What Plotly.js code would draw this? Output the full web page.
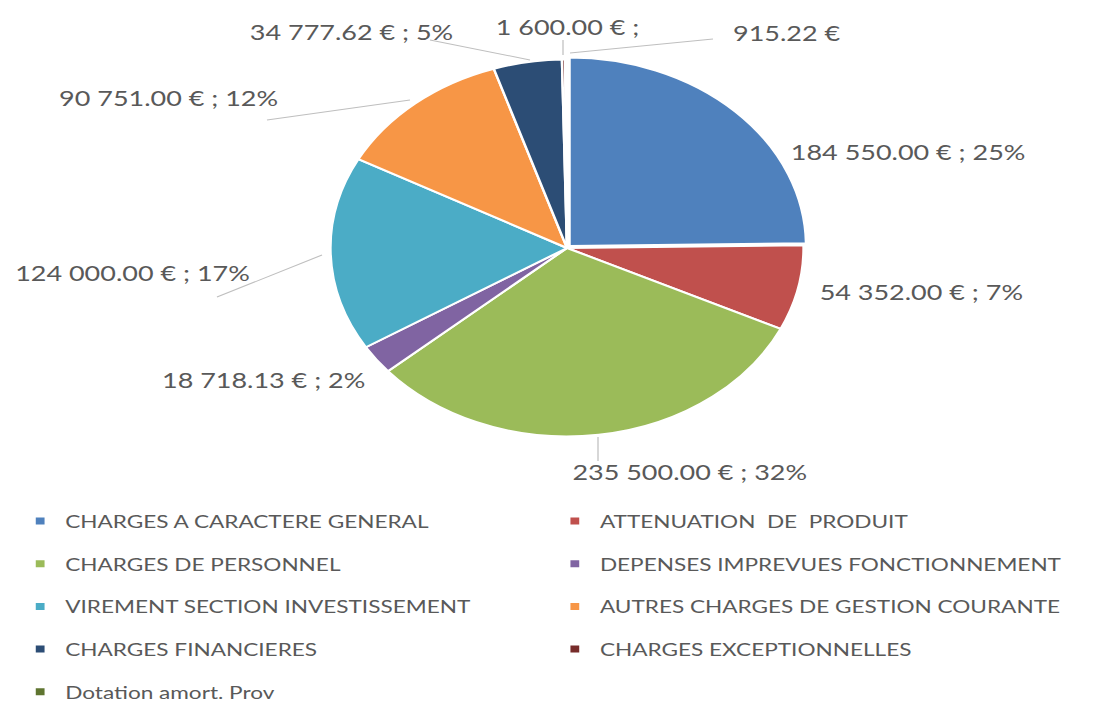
<!DOCTYPE html>
<html><head><meta charset="utf-8">
<script src="https://cdn.plot.ly/plotly-3.0.1.min.js"></script>
<style>
html,body{margin:0;padding:0;background:#fff;overflow:hidden;width:1102px;height:701px}
#wrap{width:1102px;height:701px;overflow:hidden;position:relative}
#chart{width:878px;height:701px;transform:scaleX(1.2551);transform-origin:0 0;position:absolute;left:0;top:0}
</style></head><body><div id="wrap"><div id="chart"></div></div>
<script>
// ---- data ----
const categories = [
  "CHARGES A CARACTERE GENERAL",
  "ATTENUATION  DE  PRODUIT",
  "CHARGES DE PERSONNEL",
  "DEPENSES IMPREVUES FONCTIONNEMENT",
  "VIREMENT SECTION INVESTISSEMENT",
  "AUTRES CHARGES DE GESTION COURANTE",
  "CHARGES FINANCIERES",
  "CHARGES EXCEPTIONNELLES",
  "Dotation amort. Prov"
];
const amounts = [184550.00, 54352.00, 235500.00, 18718.13, 124000.00, 90751.00, 34777.62, 1600.00, 915.22];
const labelTail = ["pct","pct","pct","pct","pct","pct","pct","semi","none"];

// ---- style ----
const colors = ["#4F81BD","#C0504D","#9BBB59","#8064A2","#4BACC6","#F79646","#2C4D75","#772C2A","#5F7530"];
const pulls = [0.015,0,0,0,0,0,0,0,0];
const K = 1.2551, W0 = 878, H = 701;
const px = x => x / K / W0;      // reference pixel x -> paper
const py = y => 1 - y / H;       // reference pixel y -> paper
// label anchor (left edge, vertical middle) in reference pixels
const labelPos = [[788,152],[817,292],[570,472],[160,380],[12,273],[57,98],[247,32],[493,27],[730,33]];
// leader lines in reference pixels
const leaders = [[430,40,530,60],[563,40,563,55],[570,53,713,39],[267,120,410,100],[217,297,322,255],[598,437,598,461]];

const total = amounts.reduce((a,b)=>a+b,0);
// whole percentages summing to 100 (largest remainder)
const raw = amounts.map(v=>v/total*100);
const pcts = raw.map(Math.floor);
let missing = 100 - pcts.reduce((a,b)=>a+b,0);
raw.map((v,i)=>[v-Math.floor(v),i]).sort((a,b)=>b[0]-a[0]).slice(0,missing).forEach(e=>pcts[e[1]]++);

function fmt(v){
  let [i,d] = v.toFixed(2).split('.');
  i = i.replace(/\B(?=(\d{3})+(?!\d))/g,' ');
  return i + '.' + d;
}
const labelText = amounts.map((v,i)=>{
  if(labelTail[i]==='pct') return fmt(v)+' € ; '+pcts[i]+'%';
  if(labelTail[i]==='semi') return fmt(v)+' € ;';
  return fmt(v)+' €';
});

// pie geometry (reference pixels): centre and vertical radius
const cx = 567/K, cy = 248, r = 188.5;
const half = r*(1+Math.max(...pulls));
const dom = {x:[(cx-half)/W0,(cx+half)/W0], y:[1-(cy+half)/H,1-(cy-half)/H]};

const traces = [{
  type:'pie', values:amounts, labels:categories, sort:false, direction:'clockwise', rotation:0,
  marker:{colors:colors, line:{color:'#ffffff', width:2}}, pull:pulls,
  textinfo:'none', showlegend:false, domain:dom, hoverinfo:'label+value+percent'
}];
categories.forEach((c,i)=>{
  traces.push({type:'scatter', mode:'markers', x:[null], y:[null], name:c,
    marker:{symbol:'square', size:7, color:colors[i]},
    legend: i%2===0 ? 'legend' : 'legend2', legendgroup:'g'+i, hoverinfo:'skip'});
});

const legFont = {family:'Lato, "Open Sans", sans-serif', size:18, color:'#595959'};
const legCommon = {orientation:'v', xanchor:'left', yanchor:'top', font:legFont, tracegroupgap:16.3,
  bgcolor:'rgba(0,0,0,0)', borderwidth:0, itemclick:false, itemdoubleclick:false};

const annotations = labelText.map((t,i)=>({
  xref:'paper', yref:'paper', x:px(labelPos[i][0]), y:py(labelPos[i][1]), xanchor:'left', yanchor:'middle',
  text:t, showarrow:false, font:{family:'Lato, "Open Sans", sans-serif', size:21.5, color:'#595959'}
}));
const shapes = leaders.map(l=>({type:'line', xref:'paper', yref:'paper',
  x0:px(l[0]), y0:py(l[1]), x1:px(l[2]), y1:py(l[3]), line:{color:'#BFBFBF', width:1}}));

const layout = {
  width:W0, height:H, margin:{l:0,r:0,t:0,b:0,autoexpand:false},
  paper_bgcolor:'#ffffff', plot_bgcolor:'#ffffff', showlegend:true,
  xaxis:{visible:false}, yaxis:{visible:false},
  legend: Object.assign({x:12/W0, y:1-502.8/H}, legCommon),
  legend2: Object.assign({x:438/W0, y:1-502.8/H}, legCommon),
  annotations:annotations, shapes:shapes
};
Plotly.newPlot('chart', traces, layout, {displayModeBar:false, staticPlot:true});
</script></body></html>
